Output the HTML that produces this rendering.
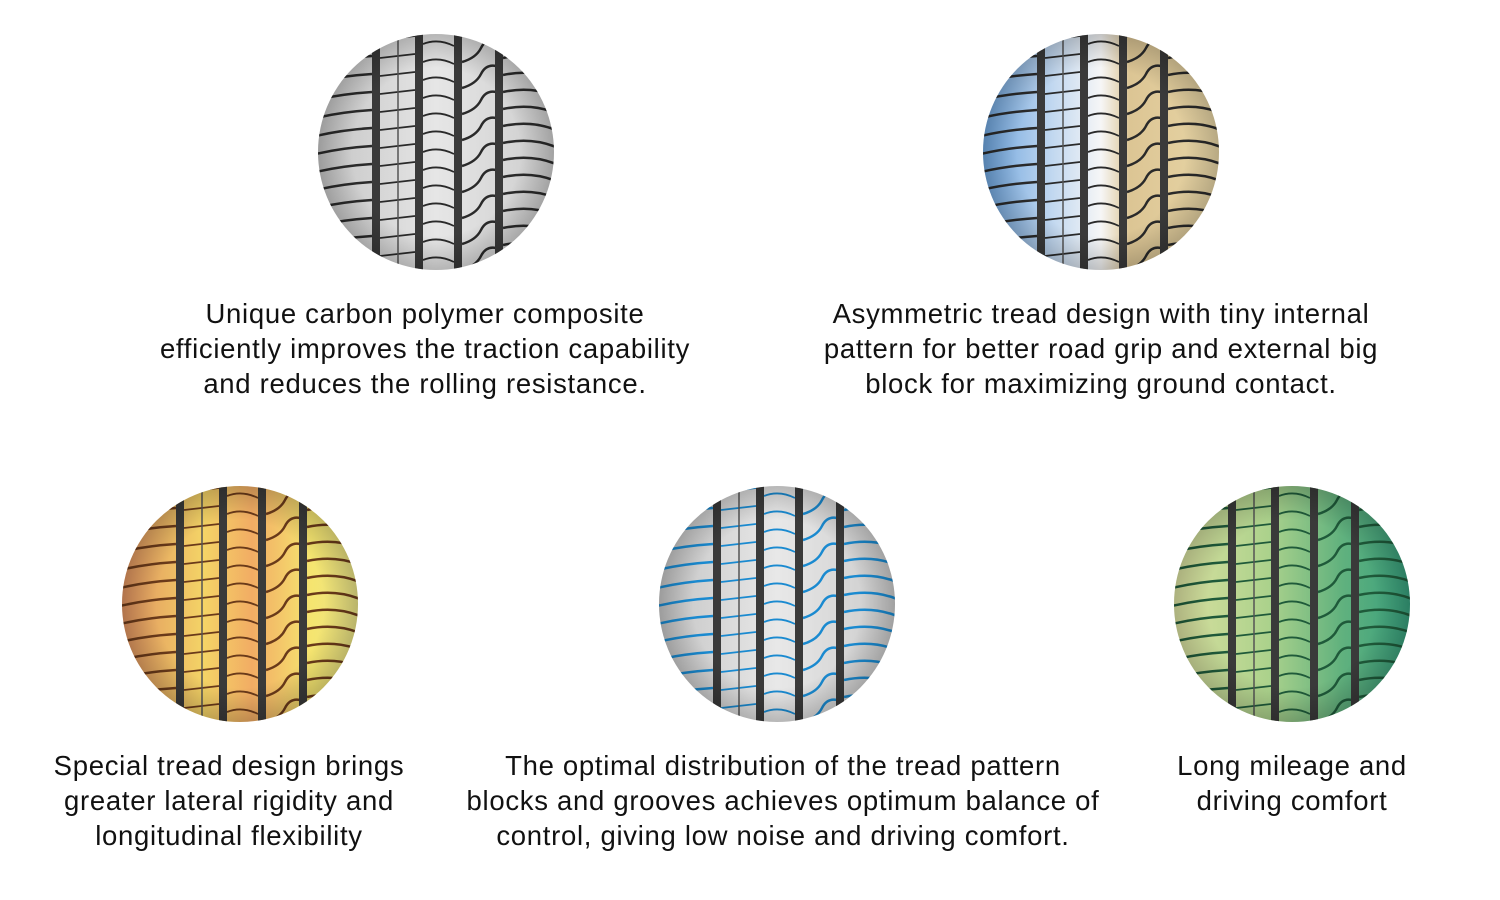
<!DOCTYPE html>
<html><head><meta charset="utf-8"><style>
html,body{margin:0;padding:0;background:#fff;width:1500px;height:900px;overflow:hidden}
.t{position:absolute;font-family:"Liberation Sans",sans-serif;font-size:27.5px;letter-spacing:0.7px;line-height:35px;color:#111;text-align:center;white-space:nowrap;transform:translateX(-50%)}
svg{position:absolute;left:0;top:0}
</style></head><body>
<svg id="s" width="1500" height="900" viewBox="0 0 1500 900">
<defs>
<clipPath id="c"><circle cx="0" cy="0" r="118"/></clipPath>
<radialGradient id="sh" cx="0.5" cy="0.5" r="0.5">
<stop offset="0.7" stop-color="#000" stop-opacity="0"/>
<stop offset="1" stop-color="#000" stop-opacity="0.22"/></radialGradient>
<linearGradient id="g1" x1="0" x2="1"><stop offset="0" stop-color="#c4c4c4"/><stop offset="0.5" stop-color="#e6e6e6"/><stop offset="1" stop-color="#cccccc"/></linearGradient>
<linearGradient id="g2" x1="0" x2="1"><stop offset="0" stop-color="#6aa2dc"/><stop offset="0.3" stop-color="#c2d8f0"/><stop offset="0.5" stop-color="#f6f6f6"/><stop offset="0.62" stop-color="#dcc594"/><stop offset="1" stop-color="#e8d6a6"/></linearGradient>
<linearGradient id="g3" x1="0" x2="1"><stop offset="0" stop-color="#df9060"/><stop offset="0.35" stop-color="#f4d466"/><stop offset="0.55" stop-color="#f2ac64"/><stop offset="0.8" stop-color="#f5e570"/><stop offset="1" stop-color="#e9e388"/></linearGradient>
<linearGradient id="g4" x1="0" x2="1"><stop offset="0" stop-color="#c4c4c4"/><stop offset="0.5" stop-color="#e8e8e8"/><stop offset="1" stop-color="#cacaca"/></linearGradient>
<linearGradient id="g5" x1="0" x2="1"><stop offset="0" stop-color="#dbe0a0"/><stop offset="0.4" stop-color="#acd28c"/><stop offset="0.7" stop-color="#62b27e"/><stop offset="1" stop-color="#359e7c"/></linearGradient>
</defs>
</svg>
<div class="t" style="left:425px;top:296px">Unique carbon polymer composite<br>efficiently improves the traction capability<br>and reduces the rolling resistance.</div>
<div class="t" style="left:1101px;top:296px">Asymmetric tread design with tiny internal<br>pattern for better road grip and external big<br>block for maximizing ground contact.</div>
<div class="t" style="left:229px;top:748px">Special tread design brings<br>greater lateral rigidity and<br>longitudinal flexibility</div>
<div class="t" style="left:783px;top:748px">The optimal distribution of the tread pattern<br>blocks and grooves achieves optimum balance of<br>control, giving low noise and driving comfort.</div>
<div class="t" style="left:1292px;top:748px">Long mileage and<br>driving comfort</div>
<script>
var s=document.getElementById('s');
var tires=[[436,152,'g1','#2a2a2a'],[1101,152,'g2','#2a2a2a'],[240,604,'g3','#6a3a1a'],[777,604,'g4','#1a8ad0'],[1292,604,'g5','#1f5a3a']];
tires.forEach(function(t){
 var h='<g transform="translate('+t[0]+','+t[1]+')"><g clip-path="url(#c)">';
 h+='<rect x="-120" y="-120" width="240" height="240" fill="url(#'+t[2]+')"/>';
 var sc=t[3];
 for(var y=-130;y<130;y+=18){
  h+='<path d="M-120 '+(y+6)+' Q-95 '+y+' -64 '+(y-2)+'" stroke="'+sc+'" stroke-width="2.5" fill="none"/>';
  h+='<path d="M-56 '+y+' L-21 '+(y-4)+'" stroke="'+sc+'" stroke-width="1.8" fill="none"/>';
  h+='<path d="M-13 '+(y+4)+' Q2 '+(y-2)+' 18 '+(y+6)+'" stroke="'+sc+'" stroke-width="1.8" fill="none"/>';
 }
 for(var y=-130;y<130;y+=26){
  h+='<path d="M26 '+(y+14)+' Q40 '+(y+10)+' 45 '+y+' T60 '+(y-8)+'" stroke="'+sc+'" stroke-width="2.5" fill="none"/>';
 }
 for(var y=-130;y<130;y+=17){
  h+='<path d="M67 '+(y+2)+' Q95 '+(y-4)+' 120 '+(y+6)+'" stroke="'+sc+'" stroke-width="2.5" fill="none"/>';
 }
 h+='<line x1="-38" y1="-120" x2="-38" y2="120" stroke="#555" stroke-width="1.5"/>';
 [-60,-17,22,63].forEach(function(x){h+='<rect x="'+(x-4)+'" y="-120" width="8" height="240" fill="#3a3a3a"/>';});
 h+='<rect x="-120" y="-120" width="240" height="240" fill="url(#sh)"/>';
 h+='</g></g>';
 s.insertAdjacentHTML('beforeend',h);
});
</script>
</body></html>
